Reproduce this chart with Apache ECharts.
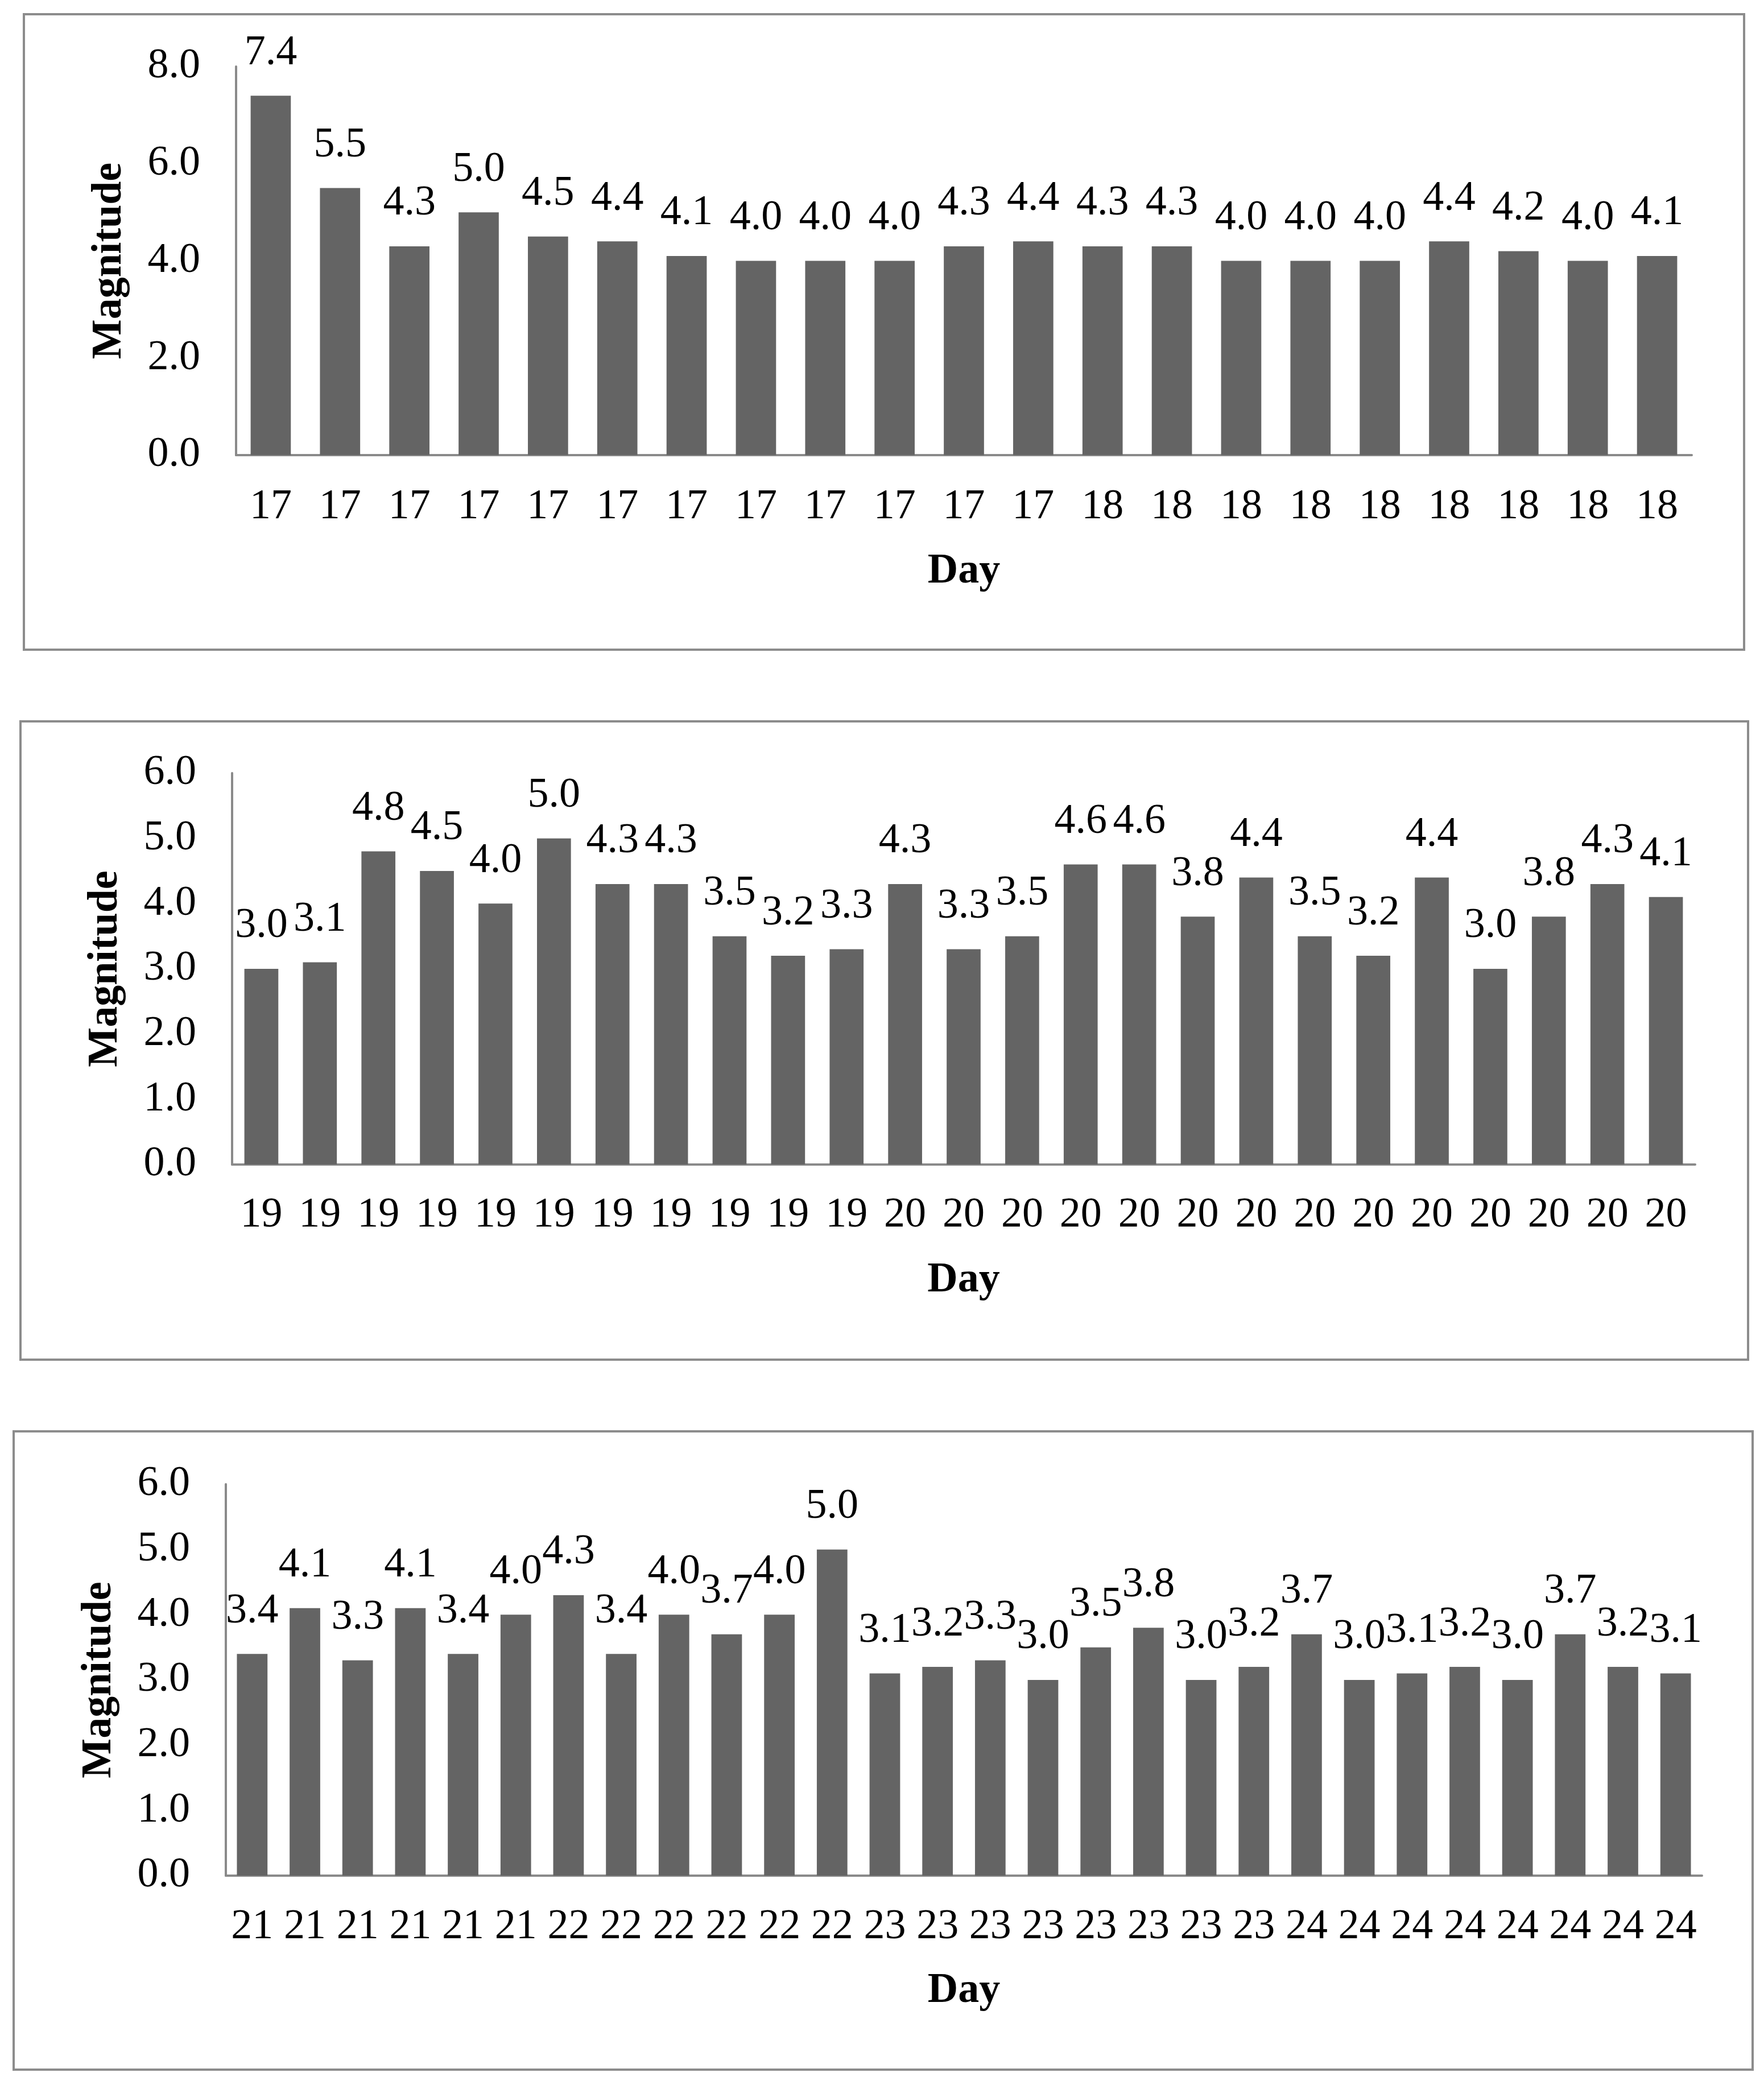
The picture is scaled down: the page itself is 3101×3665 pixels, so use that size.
<!DOCTYPE html>
<html>
<head>
<meta charset="utf-8">
<script src="https://cdn.jsdelivr.net/npm/echarts@6/dist/echarts.min.js"></script>
<style>
html,body{margin:0;padding:0;background:#fff;}
#c{width:3101px;height:3665px;}
</style>
</head>
<body>
<div id="c"></div>
<script>
// ---- data ----
const days1 = ['17','17','17','17','17','17','17','17','17','17','17','17','18','18','18','18','18','18','18','18','18'];
const mag1  = [7.4,5.5,4.3,5.0,4.5,4.4,4.1,4.0,4.0,4.0,4.3,4.4,4.3,4.3,4.0,4.0,4.0,4.4,4.2,4.0,4.1];

const days2 = ['19','19','19','19','19','19','19','19','19','19','19','20','20','20','20','20','20','20','20','20','20','20','20','20','20'];
const mag2  = [3.0,3.1,4.8,4.5,4.0,5.0,4.3,4.3,3.5,3.2,3.3,4.3,3.3,3.5,4.6,4.6,3.8,4.4,3.5,3.2,4.4,3.0,3.8,4.3,4.1];

const days3 = ['21','21','21','21','21','21','22','22','22','22','22','22','23','23','23','23','23','23','23','23','24','24','24','24','24','24','24','24'];
const mag3  = [3.4,4.1,3.3,4.1,3.4,4.0,4.3,3.4,4.0,3.7,4.0,5.0,3.1,3.2,3.3,3.0,3.5,3.8,3.0,3.2,3.7,3.0,3.1,3.2,3.0,3.7,3.2,3.1];

const yMax1 = 8, yInt1 = 2;
const yMax2 = 6, yInt2 = 1;
const yMax3 = 6, yInt3 = 1;

// ---- styling ----
const FONT = '"Liberation Serif", "Times New Roman", serif';
const FS = 74;
const BAR = '#646464';
const AXIS = '#8a8a8a';

const grids = [
  {left: 415, top: 117,  width: 2559, height: 683},
  {left: 408, top: 1359, width: 2572, height: 688},
  {left: 397, top: 2609, width: 2595, height: 688}
];
const boxes = [
  {x: 42, y: 25,   w: 3024, h: 1117},
  {x: 36, y: 1268, w: 3037, h: 1122},
  {x: 24, y: 2516, w: 3057, h: 1122}
];
const xLabelMargin = [55, 53, 54];
const dayGap = [168, 167, 166];

const cats = [days1, days2, days3];
const vals = [mag1, mag2, mag3];
const yMax = [yMax1, yMax2, yMax3];
const yInt = [yInt1, yInt2, yInt3];

const chart = echarts.init(document.getElementById('c'), null, {renderer: 'canvas'});

const xAxis = [], yAxis = [], series = [];
for (let i = 0; i < 3; i++) {
  xAxis.push({
    type: 'category', gridIndex: i, data: cats[i],
    name: 'Day', nameLocation: 'middle', nameGap: dayGap[i],
    nameTextStyle: {fontFamily: FONT, fontSize: FS, fontWeight: 'bold', color: '#000', lineHeight: FS},
    axisLine: {show: true, lineStyle: {color: AXIS, width: 4}},
    axisTick: {show: false},
    axisLabel: {interval: 0, margin: xLabelMargin[i], fontFamily: FONT, fontSize: FS, color: '#000', lineHeight: FS},
    splitLine: {show: false}
  });
  yAxis.push({
    type: 'value', gridIndex: i, min: 0, max: yMax[i], interval: yInt[i],
    name: 'Magnitude', nameLocation: 'middle', nameGap: 185,
    nameTextStyle: {fontFamily: FONT, fontSize: FS, fontWeight: 'bold', color: '#000', lineHeight: FS},
    axisLine: {show: true, lineStyle: {color: AXIS, width: 4}},
    axisTick: {show: false},
    axisLabel: {margin: 63, fontFamily: FONT, fontSize: FS, color: '#000', lineHeight: FS,
      formatter: v => v.toFixed(1)},
    splitLine: {show: false}
  });
  series.push({
    type: 'bar', xAxisIndex: i, yAxisIndex: i, data: vals[i],
    barWidth: '58%',
    itemStyle: {color: BAR},
    label: {show: true, position: 'top', distance: 38, fontFamily: FONT, fontSize: FS, color: '#000', lineHeight: FS,
      formatter: p => p.value.toFixed(1)},
    emphasis: {disabled: true},
    animation: false
  });
}

const graphic = boxes.map(b => ({
  type: 'rect', silent: true, z: -1,
  shape: {x: b.x, y: b.y, width: b.w, height: b.h},
  style: {fill: 'none', stroke: '#8c8c8c', lineWidth: 4}
}));

chart.setOption({
  animation: false,
  backgroundColor: '#ffffff',
  textStyle: {fontFamily: FONT},
  grid: grids.map(g => Object.assign({containLabel: false}, g)),
  xAxis, yAxis, series, graphic
});
</script>
</body>
</html>
